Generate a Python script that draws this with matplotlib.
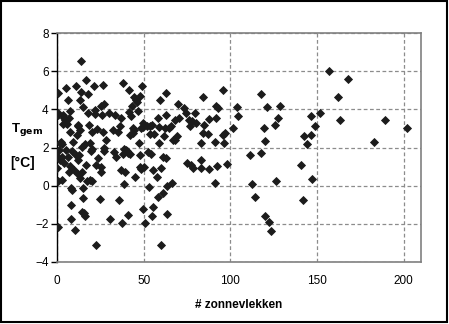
import matplotlib
matplotlib.use("Agg")
import matplotlib.pyplot as plt
from matplotlib.patches import Rectangle

# sunspot count vs mean temperature
zonnevlekken = [
    0.4, 0.4, 0.8, 0.0, 0.0, 0.4, 0.8, 1.2, 1.5, 1.9, 2.3, 2.7, 3.1, 3.1, 3.5,
    3.5, 3.8, 4.2, 4.6, 5.0, 5.2, 5.4, 5.8, 6.1, 6.3, 6.7, 6.9, 7.3, 7.7, 7.7,
    7.9, 7.9, 7.9, 8.4, 8.8, 9.2, 9.6, 10.2, 10.7, 11.1, 11.5, 11.9, 11.9, 12.3,
    12.3, 12.7, 13.1, 13.1, 13.4, 13.8, 13.8, 14.2, 14.6, 14.6, 15.0, 15.0, 15.0,
    15.5, 16.1, 16.1, 16.5, 16.5, 17.3, 17.7, 17.7, 18.4, 18.8, 19.2, 19.4, 20.0,
    20.3, 20.3, 21.5, 21.7, 21.9, 22.3, 22.6, 23.0, 23.6, 25.0, 25.3, 25.5, 25.5,
    26.1, 26.5, 26.5, 26.9, 27.3, 27.4, 28.4, 29.9, 30.7, 32.2, 32.6, 33.2, 33.8,
    35.3, 35.5, 36.1, 36.9, 37.0, 37.6, 38.0, 38.0, 38.4, 38.6, 39.5, 39.9, 40.1,
    40.7, 41.1, 41.5, 41.8, 42.2, 42.2, 42.8, 43.4, 43.8, 44.1, 44.5, 44.5, 45.1,
    45.7, 46.1, 46.6, 47.2, 47.6, 48.0, 48.0, 49.1, 48.4, 48.6, 49.5, 49.9, 49.9,
    50.3, 50.7, 52.2, 52.6, 53.0, 53.4, 53.7, 54.3, 54.9, 55.3, 55.3, 54.9, 55.7,
    57.6, 58.0, 58.3, 58.7, 58.9, 59.7, 60.1, 60.1, 61.0, 61.4, 61.8, 62.2, 62.6,
    62.6, 63.0, 63.3, 63.3, 64.5, 65.6, 66.4, 66.8, 68.3, 68.3, 69.1, 69.7, 70.1,
    73.5, 74.5, 75.2, 76.4, 76.8, 77.4, 77.9, 78.3, 79.5, 80.2, 82.9, 83.1, 83.3,
    84.1, 84.5, 84.8, 87.1, 87.5, 87.9, 91.0, 91.4, 91.7, 91.7, 92.5, 92.9, 95.6,
    96.0, 96.5, 96.7, 98.3, 101.7, 103.6, 104.2, 111.3, 112.5, 114.4, 117.5,
    117.5, 119.2, 119.8, 120.2, 121.3, 122.5, 123.2, 125.5, 126.3, 127.6, 128.6,
    140.9, 142.0, 142.6, 144.3, 146.3, 146.6, 147.4, 148.9, 151.6, 157.0, 162.4,
    163.1, 167.8, 182.7, 189.3, 201.9,
]
t_gem = [
    4.85, 3.8, 3.7, 0.92, 1.56, -2.18, 0.22, 1.88, 2.26, 1.32, 2.31, 0.3, 2.2,
    1.5, 3.7, 3.24, 1.2, 3.54, 3.45, 5.1, 3.3, 1.88, 3.24, 1.5, 4.5, 0.74, 3.54,
    2.79, 3.9, 1.05, -0.13, -1.0, -1.76, 1.8, -0.22, 2.31, 0.83, -2.32, 5.24,
    1.6, 2.66, 3.14, 0.62, 1.35, 3.19, 1.6, 2.92, 0.4, 4.5, 6.51, 4.9, 0.74,
    2.05, -1.37, 4.12, -0.13, -0.66, -1.45, -1.59, 2.2, 5.55, 1.08, 0.22, 3.8,
    4.8, 3.19, 2.23, 0.3, 1.8, 1.92, 2.79, 0.25, 5.24, 3.77, 3.94, 1.1, -3.11,
    2.96, 1.44, -0.7, 4.15, 1.0, 0.74, 3.7, 5.29, 2.79, 1.8, 4.29, 2.0, 2.37,
    3.8, -1.76, 2.92, 1.74, 3.7, 1.5, 2.79, -0.74, 3.14, 3.54, 0.83, -1.94, 5.38,
    1.67, 1.92, 0.08, 0.69, 1.88, 1.8, 1.7, -1.54, 3.84, 5.0, 2.66, 1.67, 3.66,
    4.15, 3.0, 2.75, 4.64, 2.92, 0.48, 4.5, 4.41, 3.9, 2.23, 1.0, 1.6, 4.71, 5.2,
    3.0, 0.86, 3.28, 3.1, -1.24, 1.0, -1.94, 3.14, 1.74, -0.08, 3.14, 2.72, 1.67,
    3.19, 0.83, -1.1, -1.59, 2.72, 0.48, -0.57, 3.54, 2.26, 3.07, 4.5, -3.11,
    0.92, -0.38, 1.5, 2.61, 3.0, 1.47, 4.85, 3.7, -0.03, -1.5, 3.0, 3.14, 0.12,
    2.4, 2.37, 3.45, 2.58, 4.29, 3.54, 4.06, 3.8, 1.2, 3.42, 3.14, 1.08, 3.37,
    0.92, 3.8, 3.28, 0.92, 2.26, 1.35, 2.75, 4.64, 3.19, 2.72, 3.49, 0.86, 2.31,
    0.16, 4.19, 3.54, 1.04, 4.06, 5.03, 2.66, 2.26, 2.75, 1.13, 3.0, 4.12, 3.66,
    1.6, 0.09, -0.57, 4.82, 1.7, 3.0, 2.35, -1.59, 4.12, -1.92, -2.37, 3.19,
    0.25, 3.54, 4.19, 1.08, -0.74, 2.61, 2.2, 3.66, 2.66, 0.33, 3.14, 3.8, 6.03,
    4.64, 3.45, 5.6, 2.28, 3.45, 3.0,
]

x_ticks = [0, 50, 100, 150, 200]
y_ticks = [-4, -2, 0, 2, 4, 6, 8]

plt.rcParams['font.family'] = ['Liberation Sans', 'DejaVu Sans']

fig = plt.figure(figsize=(4.49, 3.24), dpi=100)
ax = fig.add_axes([57 / 449, 62 / 324, 364 / 449, 229 / 324])

ax.plot(zonnevlekken, t_gem, linestyle='none', marker='D',
        markersize=3.7, color='#1c1c1c', markeredgewidth=0.6, zorder=3)

ax.set_xlim(0, 210)
ax.set_ylim(-4, 8)
ax.set_xticks(x_ticks)
ax.set_yticks(y_ticks)
ax.tick_params(axis='y', direction='out', length=4, width=1,
               color='black', labelsize=8.5, pad=2)
ax.tick_params(axis='x', length=0, labelsize=8.5, pad=9)

ax.grid(True, color='#8c8c8c', linestyle=(0, (3, 2)), linewidth=0.9, zorder=0)
for side in ['top', 'right', 'bottom']:
    ax.spines[side].set_color('#808080')
    ax.spines[side].set_linewidth(1.2)
ax.spines['left'].set_color('black')
ax.spines['left'].set_linewidth(1.0)

ax.set_xlabel('# zonnevlekken', fontsize=8.5, fontweight='bold', labelpad=9)

fig.text(27 / 449, 1 - 129 / 324, r'T$_{\mathbf{gem}}$', fontsize=9.5,
         fontweight='bold', ha='center', va='center')
fig.text(23 / 449, 1 - 163 / 324, '[°C]', fontsize=10,
         fontweight='bold', ha='center', va='center')

fig.patches.append(Rectangle((0.003, 0.006), 0.992, 0.99,
                             transform=fig.transFigure, fill=False,
                             edgecolor='black', linewidth=1.5))

fig.savefig('out.png', dpi=100)
